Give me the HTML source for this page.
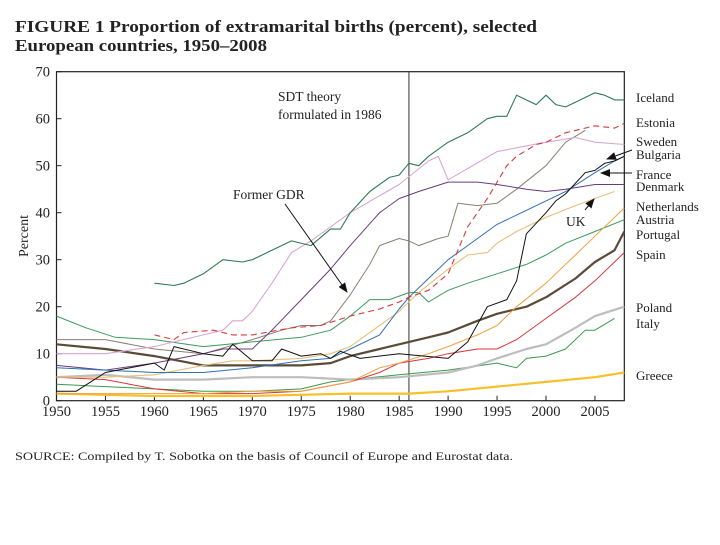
<!DOCTYPE html>
<html><head><meta charset="utf-8"><style>
body{margin:0;background:#fff;width:720px;height:540px;overflow:hidden}
svg{font-family:"Liberation Serif",serif}
</style></head><body>
<svg id="chart" width="720" height="540" viewBox="0 0 720 540">
<text x="15" y="32" font-size="16.5" font-weight="bold" fill="#222" textLength="522" lengthAdjust="spacingAndGlyphs">FIGURE 1   Proportion of extramarital births (percent), selected</text>
<text x="15" y="51" font-size="16.5" font-weight="bold" fill="#222" textLength="252" lengthAdjust="spacingAndGlyphs">European countries, 1950–2008</text>
<text transform="translate(28,236) rotate(-90)" text-anchor="middle" font-size="14" fill="#222">Percent</text>
<text x="15" y="460" font-size="11.5" fill="#222" textLength="498" lengthAdjust="spacingAndGlyphs">SOURCE: Compiled by T. Sobotka on the basis of Council of Europe and Eurostat data.</text>
<g id="axes"></g>
<g id="series"></g>
<g id="labels"></g>
</svg>
<script>
const xTicks=[1950,1955,1960,1965,1970,1975,1980,1985,1990,1995,2000,2005];
const yTicks=[0,10,20,30,40,50,60,70];
const countries=["Iceland","Estonia","Sweden","Bulgaria","France","Denmark","Netherlands","UK","Austria","Portugal","Spain","Poland","Italy","Greece","Former GDR"];
const icelandYears=[1960,1962,1963,1965,1967,1969,1970,1972,1974,1976,1978,1979,1980,1982,1984,1985,1986,1987,1988,1990,1992,1994,1995,1996,1997,1999,2000,2001,2002,2003,2005,2006,2007,2008];
const icelandVals=[25,24.5,25,27,30,29.5,30,32,34,33,36.5,36.5,40,44.5,47.5,48,50.5,50,52,55,57,60,60.5,60.5,65,63,65,63,62.5,63.5,65.5,65,64,64];
const estoniaYears=[1960,1962,1963,1966,1968,1970,1974,1977,1980,1983,1985,1986,1988,1990,1992,1994,1996,1997,1999,2000,2002,2005,2007,2008];
const estoniaVals=[14,13,14.5,15,14,14,15.5,16,18,19.5,21,22,23.5,27,37,43,50,52,54.5,55,57,58.5,58,59];
const swedenYears=[1950,1955,1960,1965,1967,1968,1969,1970,1972,1974,1976,1980,1985,1988,1989,1990,1995,2000,2003,2005,2008];
const swedenVals=[10,10,11.5,14,15,17,17,19,25,31.5,34,40,46,51,52,47,53,55,56,55,54.5];
const bulgariaYears=[1950,1952,1955,1960,1961,1962,1965,1967,1968,1970,1972,1973,1975,1977,1978,1979,1981,1985,1990,1992,1994,1996,1997,1998,2000,2001,2002,2004,2005,2006,2007,2008];
const bulgariaVals=[2,2,6,8,6.5,11.5,10,9.5,12,8.5,8.5,11,9.5,10,9,10.5,9,10,9,12.5,20,21.5,25.5,35.5,40,42.5,44,48.5,49,50.5,51,52];
const franceYears=[1950,1955,1960,1965,1970,1975,1978,1980,1983,1985,1986,1988,1990,1992,1995,1998,2000,2002,2005,2007,2008];
const franceVals=[7,6.5,6,6,7,8.5,9,11,14,19.5,22,26,30,33,37.5,40.5,42.5,44.5,48.5,51,52];
const denmarkYears=[1950,1955,1960,1965,1967,1970,1972,1975,1978,1980,1983,1985,1987,1990,1993,1995,1998,2000,2002,2005,2008];
const denmarkVals=[7.5,6.5,8,10,11,11,15,21.5,28,33,40,43,44.5,46.5,46.5,46,45,44.5,45,46,46];
const netherlandsYears=[1950,1960,1965,1970,1975,1980,1983,1985,1988,1990,1993,1995,1997,2000,2003,2005,2008];
const netherlandsVals=[1.5,1.5,1.5,2,2,4,7,8,10,11.5,14,16,20,25,31,35,41];
const ukYears=[1950,1955,1960,1965,1968,1970,1975,1978,1980,1983,1985,1987,1990,1992,1994,1995,1997,2000,2003,2007];
const ukVals=[5,5,5.5,7.5,8.5,8.5,9,10,11.5,16,19,23,28,31,31.5,33.5,36,39,41.5,44.5];
const austriaYears=[1950,1953,1956,1960,1965,1970,1975,1978,1980,1982,1984,1986,1987,1988,1990,1992,1995,1998,2000,2002,2005,2008];
const austriaVals=[18,15.5,13.5,13,11.5,12.5,13.5,15,18,21.5,21.5,23,23,21,23.5,25,27,29,31,33.5,36,38.5];
const portugalYears=[1950,1955,1960,1965,1970,1975,1978,1980,1983,1985,1988,1990,1993,1995,1998,2000,2003,2005,2007,2008];
const portugalVals=[12,11,9.5,7.5,7.5,7.5,8,9.5,11,12,13.5,14.5,17,18.5,20,22,26,29.5,32,36];
const spainYears=[1950,1955,1960,1965,1970,1975,1980,1983,1985,1988,1990,1993,1995,1997,2000,2003,2005,2008];
const spainVals=[5,4.5,2.5,1.5,1.5,2,4,6,8,9,10,11,11,13,17.5,22,25.5,31.5];
const polandYears=[1950,1955,1960,1965,1970,1975,1980,1985,1990,1993,1995,1998,2000,2003,2005,2008];
const polandVals=[5,5.5,4.5,4.5,5,5,4.5,5,6,7.5,9,11,12,15.5,18,20];
const italyYears=[1950,1955,1960,1965,1970,1975,1978,1980,1985,1990,1995,1997,1998,2000,2002,2004,2005,2007];
const italyVals=[3.5,3,2.5,2,2,2.5,4,4.5,5.5,6.5,8,7,9,9.5,11,15,15,17.5];
const greeceYears=[1950,1960,1970,1980,1986,1990,1995,2000,2005,2008];
const greeceVals=[1.5,1,1,1.5,1.5,2,3,4,5,6];
const gdrYears=[1950,1955,1960,1965,1970,1973,1975,1977,1978,1980,1982,1983,1985,1986,1987,1989,1990,1991,1993,1995,1997,2000,2002,2004];
const gdrVals=[13,13,11,10,13,15,16,16,17,22.5,29,33,34.5,34,33,34.5,35,42,41.5,42,45,50,55,57.5];

const X0=56.5,XPY=9.79,Y0=400.7,YPU=4.7;
const sx=y=>X0+(y-1950)*XPY, sy=v=>Y0-v*YPU;
const NS="http://www.w3.org/2000/svg";
function mk(t,a,p){const e=document.createElementNS(NS,t);for(const k in a)e.setAttribute(k,a[k]);p.appendChild(e);return e;}
const axes=document.getElementById('axes');
const frame=mk('rect',{x:sx(1950),y:sy(70),width:sx(2008)-sx(1950),height:sy(0)-sy(70),fill:'none',stroke:'#222','stroke-width':1.2},axes);

xTicks.forEach(t=>{
 const l=mk('line',{x1:sx(t),x2:sx(t),y1:sy(0),y2:sy(0)-5,stroke:'#222'},axes);
 
 const tx=mk('text',{x:sx(t),y:416,'text-anchor':'middle','font-size':14.5,fill:'#222'},axes);tx.textContent=t;
 
});
yTicks.forEach(t=>{
 const l=mk('line',{x1:sx(1950),x2:sx(1950)+5,y1:sy(t),y2:sy(t),stroke:'#222'},axes);
 
 const tx=mk('text',{x:50,y:sy(t)+5,'text-anchor':'end','font-size':14.5,fill:'#222'},axes);tx.textContent=t;
 
});
const vl=mk('line',{x1:sx(1986),x2:sx(1986),y1:sy(70),y2:sy(0),stroke:'#333','stroke-width':1},axes);


const defs=mk('defs',{},document.getElementById('chart'));
const mkr=mk('marker',{id:'ah',markerWidth:10,markerHeight:8,refX:9,refY:4,orient:'auto',markerUnits:'userSpaceOnUse'},defs);
mk('path',{d:'M0,0 L10,4 L0,8 Z',fill:'#111'},mkr);

const ser=document.getElementById('series');
const list=[
 [gdrYears,gdrVals,'#8a7f72',1,'',"former-gdr-line"],
 [greeceYears,greeceVals,'#f5c02a',2.2,'',"greece-line"],
 [italyYears,italyVals,'#3a9a4a',1,'',"italy-line"],
 [polandYears,polandVals,'#bdbdbd',2.2,'',"poland-line"],
 [spainYears,spainVals,'#d8343a',1,'',"spain-line"],
 [portugalYears,portugalVals,'#5b4a38',2.2,'',"portugal-line"],
 [austriaYears,austriaVals,'#3c9a5a',1,'',"austria-line"],
 [ukYears,ukVals,'#e8c07a',1.1,'',"uk-line"],
 [netherlandsYears,netherlandsVals,'#f0a040',1,'',"netherlands-line"],
 [denmarkYears,denmarkVals,'#6b3a7a',1,'',"denmark-line"],
 [franceYears,franceVals,'#2f6fb5',1,'',"france-line"],
 [bulgariaYears,bulgariaVals,'#111',1,'',"bulgaria-line"],
 [swedenYears,swedenVals,'#d8a8d0',1.1,'',"sweden-line"],
 [estoniaYears,estoniaVals,'#d83a3a',1.1,'6,4',"estonia-line"],
 [icelandYears,icelandVals,'#2f7a55',1.1,'',"iceland-line"]
];
list.forEach(([ys,vs,c,w,d,n])=>{
 const p=mk('polyline',{points:ys.map((y,i)=>sx(y).toFixed(1)+','+sy(vs[i]).toFixed(1)).join(' '),fill:'none',stroke:c,'stroke-width':w,'stroke-dasharray':d,'stroke-linejoin':'round'},ser);
 
});

const lab=document.getElementById('labels');
const labelNames=["Iceland","Estonia","Sweden","Bulgaria","France","Denmark","Netherlands","Austria","Portugal","Spain","Poland","Italy","Greece"];
const labelYs=[102,127,146,159,179,191,211,224,239,259,312,328,380];
labelNames.forEach((t,i)=>{
 const e=mk('text',{x:636,y:labelYs[i],'font-size':13,fill:'#222'},lab);e.textContent=t;
 
});
function txt(s,x,y,n){const e=mk('text',{x,y,'font-size':13.5,fill:'#222'},lab);e.textContent=s;}
txt('SDT theory',278,101,'sdt-annotation-line1');
txt('formulated in 1986',278,119,'sdt-annotation-line2');
txt('Former GDR',233,199,'gdr-label');
txt('UK',566,226,'uk-label');
function arr(x1,y1,x2,y2,n){const e=mk('line',{x1,y1,x2,y2,stroke:'#111','stroke-width':1,'marker-end':'url(#ah)'},lab);}
arr(285,204,347,292,'gdr-arrow');
arr(632,150,607,159,'bulgaria-arrow');
arr(632,173,601,173,'france-arrow');
arr(585,210,594,199,'uk-arrow');
</script>
</body></html>
